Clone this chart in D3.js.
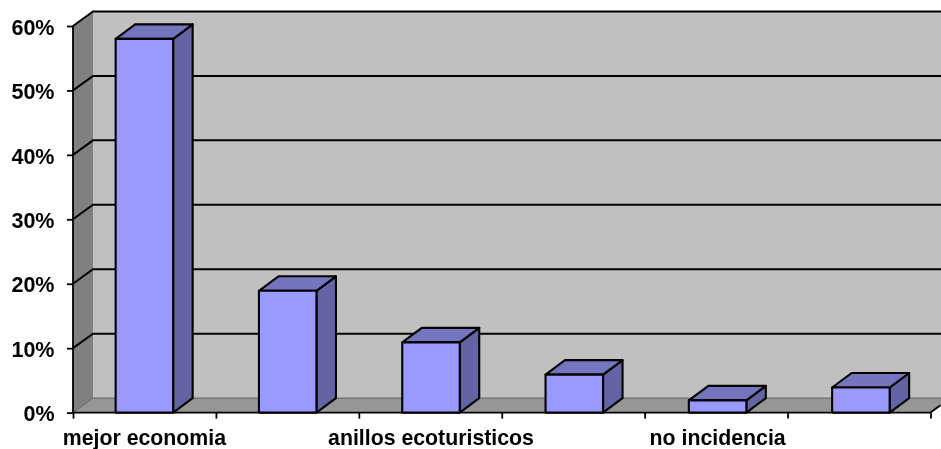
<!DOCTYPE html>
<html><head><meta charset="utf-8">
<script src="https://cdn.jsdelivr.net/npm/d3@7/dist/d3.min.js"></script>
<style>html,body{margin:0;padding:0;background:#fff}svg{display:block;filter:blur(.45px)}text{font-family:"Liberation Sans",Arial,sans-serif;font-weight:bold;fill:#000}</style>
</head><body><svg id="c" width="941" height="449"></svg>
<script>
const categories=["mejor economia","","anillos ecoturisticos","","no incidencia",""];
const values=[58,18.9,10.9,5.9,1.9,3.9];
const yTicks=[0,10,20,30,40,50,60];
const svg=d3.select("#c");
const x=d3.scaleBand().domain(d3.range(categories.length)).range([72.75,932.55]);
const y=d3.scaleLinear().domain([0,60]).range([412.6,26]);
const dx=20,dy=-14.5,bdx=19.5,bdy=-14.5;
const bw=57.5;
const line=d3.line();
const x0=73,x1=930.5,y0=y(0),yt=y(60);
// walls
svg.append("path").attr("d",line([[x0,y0],[x0,yt],[x0+dx,yt+dy],[x0+dx,y0+dy]])+"Z").attr("fill","#808080");
svg.append("path").attr("d",line([[x0+dx,yt+dy],[x1+dx,yt+dy],[x1+dx,y0+dy],[x0+dx,y0+dy]])+"Z").attr("fill","#c0c0c0");
svg.append("path").attr("d",line([[x0,y0],[x0+dx,y0+dy],[x1+dx,y0+dy],[x1,y0]])+"Z").attr("fill","#969696");
// grid
yTicks.forEach(t=>{
  const yy=y(t);
  svg.append("path").attr("fill","none").attr("stroke",t===0?"#6e6e6e":"#000").attr("stroke-width",t===0?1.2:2)
    .attr("d",line([[x0,yy],[x0+dx,yy+dy],[x1+dx,yy+dy]]));
});
// axes
const gy=svg.append("g").attr("transform",`translate(${x0},0)`).call(d3.axisLeft(y).tickValues(yTicks).tickFormat(d=>d+"%").tickSize(6).tickPadding(13));
gy.selectAll("path,line").attr("stroke","#000").attr("stroke-width",1.8);
gy.select(".domain").attr("d",`M0,${yt}V${y0}`);
gy.selectAll("text").attr("font-size",21.5).style("font-family",'"Liberation Sans",Arial,sans-serif').style("font-weight","bold").attr("x",-18.5).attr("y",0.5).attr("dy","0.36em");
const tickPos=d3.range(categories.length+1).map(i=>x0+i*(x1-x0)/categories.length);
const gx=svg.append("g").attr("transform",`translate(0,${y0})`).call(d3.axisBottom(d3.scaleLinear().domain([x0,x1]).range([x0,x1])).tickValues(tickPos).tickFormat("").tickSize(6));
gx.selectAll("path,line").attr("stroke","#000").attr("stroke-width",1.8);
gx.select(".domain").attr("d",`M${x0},0H${x1}`);
svg.append("path").attr("stroke","#000").attr("stroke-width",1.8).attr("d",line([[x1,y0],[x1+dx*0.5,y0+dy*0.5]]));
svg.selectAll(".xl").data(categories).join("text").attr("class","xl")
  .attr("x",(d,i)=>x(i)+x.bandwidth()/2).attr("y",445).attr("text-anchor","middle").attr("font-size",21.3).text(d=>d);
// bars
const g=svg.selectAll(".bar").data(values).join("g").attr("class","bar").attr("stroke","#000").attr("stroke-width",2.1).attr("stroke-linejoin","round");
const bl=(i)=>x(i)+(x.bandwidth()-bw)/2;
g.append("path").attr("fill","#6464a4").attr("d",(d,i)=>{const l=bl(i)+bw;return line([[l,y(d)],[l+bdx,y(d)+bdy],[l+bdx,y0+bdy],[l,y0]])+"Z"});
g.append("path").attr("fill","#7575bf").attr("d",(d,i)=>{const l=bl(i);return line([[l,y(d)],[l+bdx,y(d)+bdy],[l+bw+bdx,y(d)+bdy],[l+bw,y(d)]])+"Z"});
g.append("rect").attr("fill","#9999ff").attr("x",(d,i)=>bl(i)).attr("y",d=>y(d)).attr("width",bw).attr("height",d=>y0-y(d));
</script></body></html>
